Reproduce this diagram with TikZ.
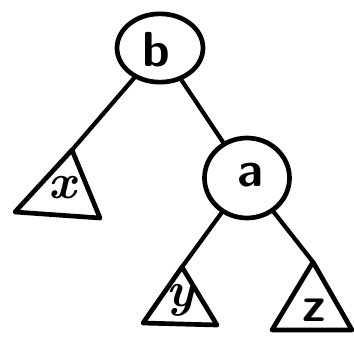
\documentclass[tikz,border=0pt]{standalone}
\usepackage{tikz}
\usetikzlibrary{shapes.geometric}
\definecolor{ink}{RGB}{0,0,0}
\tikzset{
  key/.style={draw=ink, ellipse, line width=4pt, minimum width=#1, inner sep=0pt},
  edge/.style={draw=ink, line width=3.6pt, line cap=round},
  subtree/.style={draw=ink, line width=4pt, line join=round},
  lbl/.style={font=\fontsize{42}{42}\selectfont\sffamily\bfseries, inner sep=0pt}
}
\begin{document}
\begin{tikzpicture}[x=0.03cm, y=-0.03cm]
  \useasboundingbox (0,0) rectangle (354,337);
  % keys
  \node[key=2.58cm, minimum height=2.05cm] (b) at (160,48) {};
  \node[key=2.55cm, minimum height=2.4cm] (a) at (247,178) {};
  \node[lbl] (bl) at (156,50) {b};
  \node[lbl] (al) at (250,175) {a};
  % subtrees
  \coordinate (xtop) at (72,150);
  \coordinate (ytop) at (182,267);
  \coordinate (ztop) at (313,262);
  \draw[subtree] (xtop) -- (15,212) -- (100,218) -- cycle;
  \draw[subtree] (ytop) -- (143,323) -- (217,325) -- cycle;
  \draw[subtree] (ztop) -- (272,330) -- (352,330) -- cycle;
  \node[lbl, font=\fontsize{42}{42}\selectfont\itshape\bfseries] (xl) at (62,188) {x};
  \node[lbl, font=\fontsize{42}{42}\selectfont\itshape\bfseries] (yl) at (180,300) {y};
  \node[lbl] (zl) at (314,310) {z};
  % links
  \draw[edge] (b) -- (xtop);
  \draw[edge] (b) -- (a);
  \draw[edge] (a) -- (ytop);
  \draw[edge] (a) -- (ztop);
\end{tikzpicture}
\end{document}
